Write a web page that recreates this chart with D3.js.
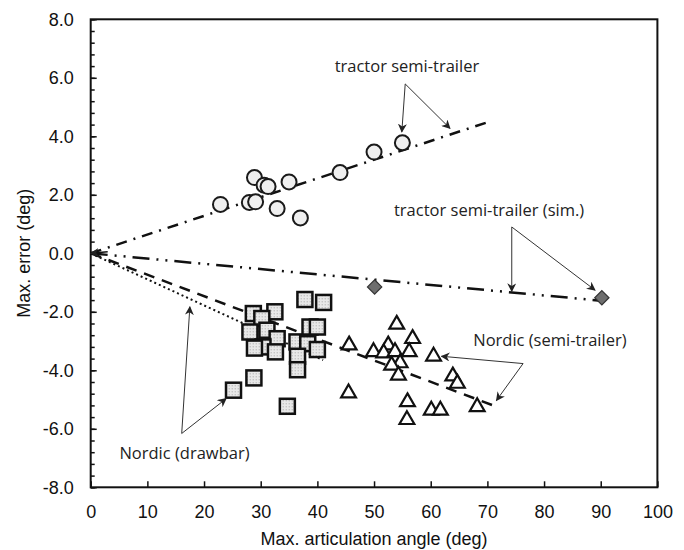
<!DOCTYPE html>
<html>
<head>
<meta charset="utf-8">
<script src="https://cdn.jsdelivr.net/npm/d3@7"></script>
<style>
  body { margin: 0; background: #fff; }
  .axis text { font-family: "Liberation Sans", Arial, sans-serif; font-size: 18px; fill: #111; }
  .axis path, .axis line { stroke: #111; }
  .axis-title { font-family: "Liberation Sans", Arial, sans-serif; font-size: 18px; fill: #111; }
  .note { font-family: "Open Sans", sans-serif; font-size: 16.5px; fill: #222; }
</style>
</head>
<body>
<svg id="chart" width="684" height="550"></svg>
<script>
// tractor semi-trailer (measured)
const tractorX = [22.9, 28.0, 29.1, 28.9, 30.6, 31.3, 32.9, 35.0, 37.0, 44.0, 50.0, 55.0];
const tractorY = [1.67, 1.74, 1.76, 2.59, 2.33, 2.28, 1.53, 2.44, 1.21, 2.76, 3.46, 3.78];

// tractor semi-trailer (sim.)
const simX = [50.1, 90.2];
const simY = [-1.15, -1.52];

// Nordic (drawbar)
const drawbarX = [28.7, 32.5, 37.8, 41.1, 30.2, 28.1, 31.1, 32.9, 30.4, 28.9, 32.6, 36.4, 38.7, 40.0, 38.3, 40.0, 36.5, 36.5, 28.8, 25.2, 34.7];
const drawbarY = [-2.06, -2.0, -1.58, -1.68, -2.23, -2.69, -2.63, -2.92, -3.2, -3.24, -3.37, -3.03, -2.52, -2.52, -3.09, -3.29, -3.52, -3.98, -4.26, -4.68, -5.23];

// Nordic (semi-trailer)
const semiX = [54.0, 56.8, 52.5, 49.9, 51.7, 53.7, 56.2, 60.5, 54.6, 53.1, 54.3, 63.9, 64.7, 55.9, 60.1, 61.7, 68.2, 55.8, 45.6, 45.5];
const semiY = [-2.43, -2.92, -3.14, -3.37, -3.41, -3.37, -3.37, -3.52, -3.75, -3.83, -4.17, -4.2, -4.45, -5.08, -5.37, -5.37, -5.25, -5.69, -3.14, -4.78];

// trend lines: [x0, x1], [y0, y1]
const trendTractor = [[0, 70], [0, 4.48]];
const trendSim = [[0, 90], [0, -1.62]];
const trendSemi = [[0, 71], [0, -5.2]];
const trendDrawbar = [[0, 41], [0, -3.65]];

const xTicks = [0, 10, 20, 30, 40, 50, 60, 70, 80, 90, 100];
const yTicks = [-8, -6, -4, -2, 0, 2, 4, 6, 8];

// annotations: label, label position, arrow start, arrow targets (data units)
const notes = [
  { text: "tractor semi-trailer", at: [55.8, 6.38], anchor: "middle", from: [55.5, 5.79], to: [[54.9, 4.15], [63.4, 4.27]] },
  { text: "tractor semi-trailer (sim.)", at: [70.3, 1.47], anchor: "middle", from: [74.3, 0.9], to: [[74.3, -1.3], [89.0, -1.26]] },
  { text: "Nordic (semi-trailer)", at: [67.5, -2.97], anchor: "start", from: [76.3, -3.77], to: [[61.9, -3.52], [71.6, -5.03]] },
  { text: "Nordic (drawbar)", at: [16.55, -6.83], anchor: "middle", from: [16.06, -6.16], to: [[17.5, -1.83], [23.9, -4.97]] }
];

const margin = { top: 19.3, left: 90.7, right: 26.6, bottom: 62.7 };
const width = 684 - margin.left - margin.right;
const height = 550 - margin.top - margin.bottom;

const svg = d3.select("#chart");
const defs = svg.append("defs");

// dotted grey fill for the squares
const pat = defs.append("pattern")
  .attr("id", "dots").attr("width", 3).attr("height", 3)
  .attr("patternUnits", "userSpaceOnUse");
pat.append("rect").attr("width", 3).attr("height", 3).attr("fill", "#e8e8e8");
pat.append("rect").attr("width", 1).attr("height", 1).attr("fill", "#a0a0a0");

defs.append("marker")
  .attr("id", "arrow").attr("viewBox", "0 0 10 10")
  .attr("refX", 9).attr("refY", 5)
  .attr("markerWidth", 9).attr("markerHeight", 9)
  .attr("markerUnits", "userSpaceOnUse")
  .attr("orient", "auto")
  .append("path")
  .attr("d", "M0,0 L10,5 L0,10 L3,5 Z")
  .attr("fill", "#222");

const g = svg.append("g").attr("transform", `translate(${margin.left},${margin.top})`);

const x = d3.scaleLinear().domain([0, 100]).range([0, width]);
const y = d3.scaleLinear().domain([-8, 8]).range([height, 0]);

const fmtY = d => d3.format(".1f")(d).replace("\u2212", "-");

// y minor ticks
g.append("g").attr("class", "axis")
  .call(d3.axisLeft(y).tickValues(d3.range(-8, 8.01, 0.4)).tickSize(-4).tickFormat(""))
  .call(a => a.select(".domain").remove())
  .selectAll("line").attr("stroke-width", 1.5);

// y major
g.append("g").attr("class", "axis")
  .call(d3.axisLeft(y).tickValues(yTicks).tickSize(-6).tickPadding(17).tickFormat(fmtY))
  .call(a => a.select(".domain").remove())
  .selectAll("line").attr("stroke-width", 1.5);

// x major
g.append("g").attr("class", "axis")
  .attr("transform", `translate(0,${height})`)
  .call(d3.axisBottom(x).tickValues(xTicks).tickSize(-6).tickPadding(18))
  .call(a => a.select(".domain").remove())
  .selectAll("line").attr("stroke-width", 1.5);

// plot frame
g.append("rect")
  .attr("width", width).attr("height", height)
  .attr("fill", "none").attr("stroke", "#111").attr("stroke-width", 2);

svg.append("text").attr("class", "axis-title")
  .attr("text-anchor", "middle")
  .attr("x", margin.left + width / 2).attr("y", 545)
  .text("Max. articulation angle (deg)");

svg.append("text").attr("class", "axis-title")
  .attr("text-anchor", "middle")
  .attr("transform", `translate(30,${margin.top + height / 2}) rotate(-90)`)
  .text("Max. error (deg)");

// trend lines
const line = d3.line().x(d => x(d[0])).y(d => y(d[1]));
function trend(t, dash, w) {
  g.append("path")
    .datum(d3.zip(t[0], t[1]))
    .attr("d", line)
    .attr("fill", "none").attr("stroke", "#111")
    .attr("stroke-width", w).attr("stroke-dasharray", dash);
}
trend(trendTractor, "11,7,2,7", 2.5);
trend(trendSim, "17,7,2,7,2,7", 2.5);
trend(trendSemi, "11,8", 2.5);
trend(trendDrawbar, "2,3", 2);

// tractor semi-trailer circles
g.selectAll(".circ")
  .data(d3.zip(tractorX, tractorY))
  .join("circle")
  .attr("cx", d => x(d[0])).attr("cy", d => y(d[1]))
  .attr("r", 7.5)
  .attr("fill", "#efefef").attr("stroke", "#1a1a1a").attr("stroke-width", 2);

// Nordic drawbar squares
g.selectAll(".sq")
  .data(d3.zip(drawbarX, drawbarY))
  .join("rect")
  .attr("x", d => x(d[0]) - 7.5).attr("y", d => y(d[1]) - 7.5)
  .attr("width", 15).attr("height", 15)
  .attr("fill", "url(#dots)").attr("stroke", "#111").attr("stroke-width", 2.5);

// Nordic semi-trailer triangles
const tri = d3.symbol().type(d3.symbolTriangle).size(95);
g.selectAll(".tri")
  .data(d3.zip(semiX, semiY))
  .join("path")
  .attr("d", tri)
  .attr("transform", d => `translate(${x(d[0])},${y(d[1])})`)
  .attr("fill", "#fff").attr("stroke", "#111").attr("stroke-width", 2.2);

// sim diamonds
const dia = d3.symbol().type(d3.symbolDiamond2).size(130);
g.selectAll(".dia")
  .data(d3.zip(simX, simY))
  .join("path")
  .attr("d", dia)
  .attr("transform", d => `translate(${x(d[0])},${y(d[1])})`)
  .attr("fill", "#6e6e6e").attr("stroke", "#333").attr("stroke-width", 1.2);

// small arrowhead at the origin
g.append("path")
  .attr("d", `M${x(3)},${y(0.05)} L${x(0)},${y(0)}`)
  .attr("stroke", "#111").attr("stroke-width", 1.5)
  .attr("marker-end", "url(#arrow)");

// annotations
notes.forEach(n => {
  g.append("text").attr("class", "note")
    .attr("x", x(n.at[0])).attr("y", y(n.at[1]))
    .attr("dy", "0.35em")
    .attr("text-anchor", n.anchor)
    .text(n.text);
  n.to.forEach(t => {
    g.append("line")
      .attr("x1", x(n.from[0])).attr("y1", y(n.from[1]))
      .attr("x2", x(t[0])).attr("y2", y(t[1]))
      .attr("stroke", "#333").attr("stroke-width", 1)
      .attr("marker-end", "url(#arrow)");
  });
});
</script>
</body>
</html>
